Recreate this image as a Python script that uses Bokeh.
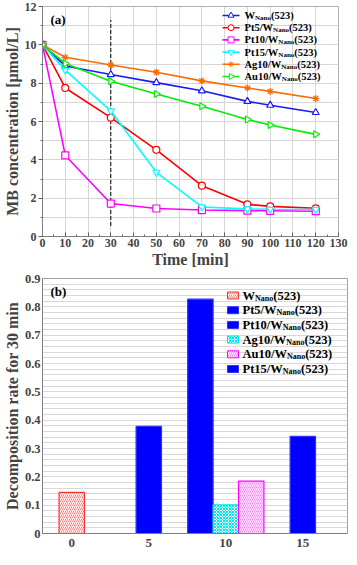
import math
from bokeh.plotting import figure
from bokeh.layouts import column
from bokeh.models import SingleIntervalTicker, FixedTicker, Label, Range1d, ColumnDataSource
from bokeh.embed import file_html
from bokeh.resources import INLINE

# ---------------- data: panel (a) ----------------
time_min = [0, 10, 30, 50, 70, 90, 100, 120]
w_nano = [10.0, 8.9, 8.45, 8.03, 7.6, 7.05, 6.85, 6.47]
pt5 = [10.0, 7.75, 6.2, 4.52, 2.65, 1.68, 1.57, 1.47]
pt10 = [10.0, 4.23, 1.72, 1.46, 1.38, 1.35, 1.34, 1.32]
pt15 = [10.0, 8.68, 6.55, 3.35, 1.54, 1.44, 1.42, 1.41]
ag10 = [10.0, 9.35, 8.95, 8.57, 8.12, 7.75, 7.57, 7.2]
au10 = [10.0, 9.03, 8.1, 7.43, 6.8, 6.1, 5.82, 5.33]
marker_time = 30
marker_span = [0.55, 11.3]

# ---------------- data: panel (b) ----------------
bar_names = ["W", "Pt5", "Pt10", "Ag10", "Au10", "Pt15"]
bar_loading = [0, 5, 10, 10, 10, 15]
bar_rate = [0.145, 0.378, 0.827, 0.101, 0.185, 0.343]
b_ticks = [0, 5, 10, 15]

FONT = "Liberation Serif"
# Times/Liberation Serif Bold advance widths (per 1000 em)
ADV = {"W": 1000, "P": 611, "t": 333, "5": 500, "1": 500, "0": 500, "/": 278,
       "A": 722, "g": 500, "u": 556, "N": 722, "a": 500, "n": 556, "o": 500,
       "(": 333, ")": 333, "2": 500, "3": 500}


def tw(s, size):
    return sum(ADV.get(c, 500) for c in s) * size / 1000.0


def style_axes(p, tick_size="12px"):
    for ax in p.axis:
        ax.axis_label_text_font = FONT
        ax.axis_label_text_font_style = "bold"
        ax.axis_label_text_font_size = "16px"
        ax.major_label_text_font = FONT
        ax.major_label_text_font_style = "bold"
        ax.major_label_text_font_size = tick_size
        ax.axis_line_color = "#808080"
        ax.major_tick_line_color = "#606060"
        ax.minor_tick_line_color = "#606060"
        ax.major_label_standoff = 2
        ax.axis_label_standoff = 1


def add_text(p, x, y, text, size, color="black"):
    p.add_layout(Label(x=x, y=y, text=text, text_font=FONT, text_font_style="bold",
                       text_font_size=f"{size}px", text_baseline="middle",
                       text_align="left", text_color=color))


def legend_label(p, conv, px, py, prefix, size, sub_size):
    x, y = conv(px, py)
    add_text(p, x, y, prefix, size)
    sx = px + tw(prefix, size)
    x2, y2 = conv(sx, py + 2.5)
    add_text(p, x2, y2, "Nano", sub_size)
    ex = sx + tw("Nano", sub_size)
    x3, y3 = conv(ex, py)
    add_text(p, x3, y3, "(523)", size)


# ================= panel (a) =================
FW_A, FH_A = 296, 230
XA, YA = (0, 130), (0, 12)


def conv_a(px, py):
    return XA[0] + px * (XA[1] - XA[0]) / FW_A, YA[1] - py * (YA[1] - YA[0]) / FH_A


p1 = figure(frame_width=FW_A, frame_height=FH_A, x_range=Range1d(*XA), y_range=Range1d(*YA),
            output_backend="svg", toolbar_location=None,
            min_border_left=34, min_border_right=10, min_border_top=6, min_border_bottom=0)
p1.outline_line_color = "#b0b0b0"
p1.xaxis.axis_label = "Time [min]"
p1.yaxis.axis_label = "MB concentration [\u03bcmol/L]"
p1.xaxis.ticker = SingleIntervalTicker(interval=10, num_minor_ticks=2)
p1.yaxis.ticker = SingleIntervalTicker(interval=2, num_minor_ticks=2)
style_axes(p1)
p1.xaxis.major_tick_in = 4
p1.xaxis.major_tick_out = 0
p1.xaxis.minor_tick_in = 2
p1.xaxis.minor_tick_out = 0
p1.yaxis.major_tick_in = 0
p1.yaxis.major_tick_out = 4
p1.yaxis.minor_tick_in = 0
p1.yaxis.minor_tick_out = 2
p1.grid.grid_line_color = "#d6d6d6"
p1.ygrid.minor_grid_line_color = "#d6d6d6"

series = [
    ("W", w_nano, "#1a1aff", "triangle", 0.0),
    ("Pt5/W", pt5, "#ff0000", "circle", 0.0),
    ("Pt10/W", pt10, "#ff00ff", "square", 0.0),
    ("Pt15/W", pt15, "#00ffff", "inverted_triangle", 0.0),
    ("Ag10/W", ag10, "#ff6a00", "asterisk", 0.0),
    ("Au10/W", au10, "#00ee00", "triangle", -math.pi / 2),
]

p1.segment(x0=[marker_time], y0=[marker_span[0]], x1=[marker_time], y1=[marker_span[1]],
           line_color="black", line_dash="4 2", line_width=1)

for name, vals, col, mk, ang in series:
    p1.line(time_min, vals, line_color=col, line_width=1.6)
    p1.scatter(time_min, vals, marker=mk, angle=ang, size=7, line_color=col,
               fill_color="white", line_width=1.2)

# legend (a)
TXA = FW_A - 94
for i, (name, vals, col, mk, ang) in enumerate(series):
    py = 9 + i * 12.2
    xa0, ya0 = conv_a(TXA - 22, py)
    xa1, _ = conv_a(TXA - 5, py)
    xm, _ = conv_a(TXA - 13.5, py)
    p1.segment(x0=[xa0], y0=[ya0], x1=[xa1], y1=[ya0], line_color=col, line_width=1.6)
    p1.scatter([xm], [ya0], marker=mk, angle=ang, size=6, line_color=col,
               fill_color="white", line_width=1)
    legend_label(p1, conv_a, TXA, py, name, 10.5, 7)

xl, yl = conv_a(8, 13)
add_text(p1, xl, yl, "(a)", 13)

# ================= panel (b) =================
FW_B, FH_B = 305, 255
XB, YB = (-1.9, 17.9), (0, 0.9)
BW = 1.65


def conv_b(px, py):
    return XB[0] + px * (XB[1] - XB[0]) / FW_B, YB[1] - py * (YB[1] - YB[0]) / FH_B


p2 = figure(frame_width=FW_B, frame_height=FH_B, x_range=Range1d(*XB), y_range=Range1d(*YB),
            output_backend="svg", toolbar_location=None,
            min_border_left=34, min_border_right=1, min_border_top=8, min_border_bottom=0)
p2.outline_line_color = "#a0a0a0"
p2.yaxis.axis_label = "Decomposition rate for 30 min"
p2.xaxis.ticker = FixedTicker(ticks=b_ticks)
p2.yaxis.ticker = SingleIntervalTicker(interval=0.1, num_minor_ticks=5)
p2.yaxis.major_label_overrides = {0: "0"}
style_axes(p2, tick_size="12.5px")
p2.xaxis.major_label_text_font_size = "13px"
p2.xaxis.major_label_standoff = 5
for ax in p2.axis:
    ax.major_tick_in = 0
    ax.major_tick_out = 0
    ax.minor_tick_in = 0
    ax.minor_tick_out = 0
p2.xgrid.grid_line_color = None
p2.ygrid.grid_line_color = "#d8d8d8"
p2.ygrid.minor_grid_line_color = "#d8d8d8"

bar_offset = [0, 0, -1, 0, 1, 0]
bar_styles = [
    dict(fill_color="white", line_color="#ff3030", hatch_pattern="right_diagonal_line",
         hatch_color="#ff8080", hatch_scale=4, hatch_weight=1),
    dict(fill_color="#0000ff", line_color="#3030ff"),
    dict(fill_color="#0000ff", line_color="#3030ff"),
    dict(fill_color="white", line_color="#00e0e0", hatch_pattern="diagonal_cross",
         hatch_color="#00e8e8", hatch_scale=3, hatch_weight=1),
    dict(fill_color="white", line_color="#ff00ff", hatch_pattern="left_diagonal_line",
         hatch_color="#ff80ff", hatch_scale=4, hatch_weight=1),
    dict(fill_color="#0000ff", line_color="#3030ff"),
]
for i in range(len(bar_names)):
    src = ColumnDataSource(dict(x=[bar_loading[i] + bar_offset[i] * BW], top=[bar_rate[i]]))
    p2.vbar(x="x", top="top", bottom=0, width=BW, source=src, line_width=1.2, **bar_styles[i])

legend_b_names = ["W", "Pt5/W", "Pt10/W", "Ag10/W", "Au10/W", "Pt15/W"]
TXB = FW_B - 105
for i, nm in enumerate(legend_b_names):
    py = 17 + i * 14.7
    l, t = conv_b(TXB - 15, py - 3.5)
    r, b = conv_b(TXB - 4, py + 3.5)
    p2.quad(left=[l], right=[r], top=[t], bottom=[b], line_width=1, **bar_styles[i])
    legend_label(p2, conv_b, TXB, py, nm, 12.5, 8)

xl, yl = conv_b(8, 13)
add_text(p2, xl, yl, "(b)", 13)

layout = column(p1, p2, spacing=0)
open("out.html", "w").write(file_html(layout, INLINE))
